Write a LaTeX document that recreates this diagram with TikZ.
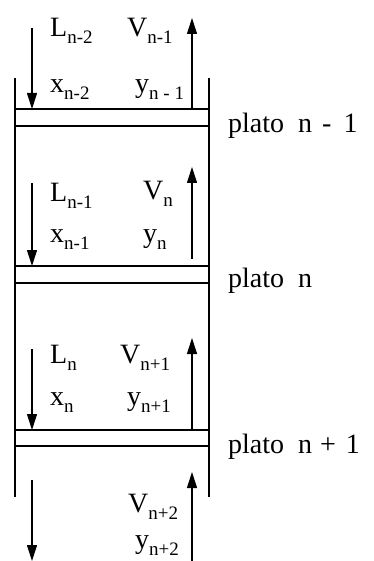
\documentclass[tikz,border=0pt]{standalone}
\usepackage{fontspec}
\setmainfont{Liberation Serif}
\usetikzlibrary{arrows.meta}
\newcommand{\subtx}[1]{\raisebox{-7pt}{\fontsize{19}{19}\selectfont #1}}
\begin{document}
\begin{tikzpicture}[x=1pt,y=-1pt,
  wallline/.style={line width=1.3pt},
  flow/.style={line width=1.1pt,-{Triangle[length=16pt,width=10pt]}},
  lbl/.style={inner sep=0pt,anchor=base west,font=\fontsize{28}{30}\selectfont},
  platelbl/.style={inner sep=0pt,anchor=base west,font=\fontsize{28}{30}\selectfont}]
\useasboundingbox (0,0) rectangle (373,561);
% walls
\coordinate (wlt) at (15,78);
\coordinate (wlb) at (15,497);
\coordinate (wrt) at (209,78);
\coordinate (wrb) at (209,497);
\draw[wallline] (wlt) -- (wlb);
\draw[wallline] (wrt) -- (wrb);
% plates
\foreach \i/\ya/\yb in {1/109/126,2/266/283,3/430/446}{
  \coordinate (p\i al) at (15,\ya);
  \coordinate (p\i ar) at (209,\ya);
  \coordinate (p\i bl) at (15,\yb);
  \coordinate (p\i br) at (209,\yb);
  \draw[wallline] (p\i al) -- (p\i ar);
  \draw[wallline] (p\i bl) -- (p\i br);
}
% flow arrows
\coordinate (d1s) at (32,28);  \coordinate (d1e) at (32,109);
\coordinate (u1s) at (192,109); \coordinate (u1e) at (192,18);
\coordinate (d2s) at (32,183); \coordinate (d2e) at (32,266);
\coordinate (u2s) at (192,259); \coordinate (u2e) at (192,167);
\coordinate (d3s) at (32,349); \coordinate (d3e) at (32,430);
\coordinate (u3s) at (192,430); \coordinate (u3e) at (192,338);
\coordinate (d4s) at (32,480); \coordinate (d4e) at (32,561);
\coordinate (u4s) at (192,561); \coordinate (u4e) at (192,472);
\foreach \k in {1,2,3,4}{
  \draw[flow] (d\k s) -- (d\k e);
  \draw[flow] (u\k s) -- (u\k e);
}
% labels section 1
\node[lbl] (L1) at (50,37) {L\subtx{n-2}};
\node[lbl] (V1) at (127,37) {V\subtx{n-1}};
\node[lbl] (x1) at (50,93) {x\subtx{n-2}};
\node[lbl] (y1) at (135,93) {y\subtx{n - 1}};
% section 2
\node[lbl] (L2) at (50,201) {L\subtx{n-1}};
\node[lbl] (V2) at (143,200) {V\subtx{n}};
\node[lbl] (x2) at (50,242) {x\subtx{n-1}};
\node[lbl] (y2) at (143,242) {y\subtx{n}};
% section 3
\node[lbl] (L3) at (50,363) {L\subtx{n}};
\node[lbl] (V3) at (120,363) {V\subtx{n+1}};
\node[lbl] (x3) at (50,405) {x\subtx{n}};
\node[lbl] (y3) at (127,405) {y\subtx{n+1}};
% section 4
\node[lbl] (V4) at (128,512) {V\subtx{n+2}};
\node[lbl] (y4) at (135,548) {y\subtx{n+2}};
% plate labels
\node[platelbl] (P1) at (228,133) {plato\hspace{14pt}n\hspace{10pt}-\hspace{12pt}1};
\node[platelbl] (P2) at (228,287) {plato\hspace{14pt}n};
\node[platelbl] (P3) at (228,453) {plato\hspace{14pt}n\hspace{8pt}+\hspace{10pt}1};
\end{tikzpicture}
\end{document}
